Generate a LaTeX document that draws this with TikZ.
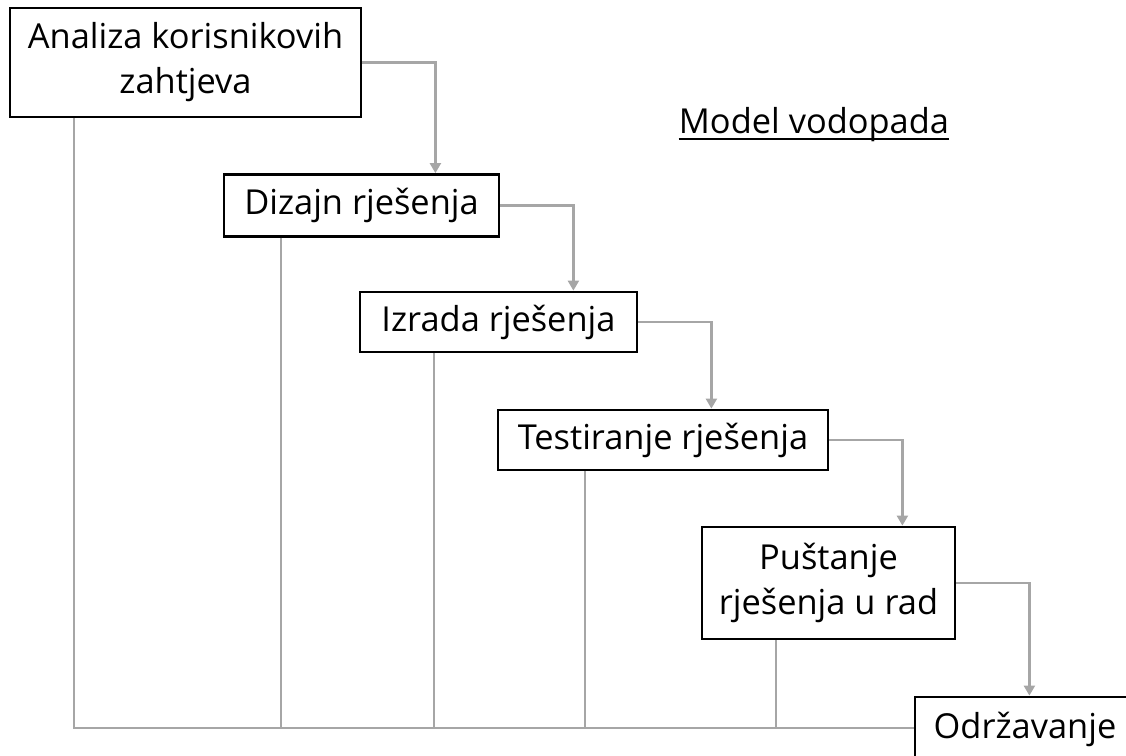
\documentclass[tikz,border=0pt]{standalone}
\usepackage{fontspec}
\setmainfont{Open Sans}
\usetikzlibrary{arrows.meta,calc}

\begin{document}
\begin{tikzpicture}[x=0.5pt,y=-0.5pt]
    \definecolor{linegray}{RGB}{166, 166, 166}
    
    \tikzset{
        phase/.style={draw=black, line width=1.4pt, fill=white, align=center, inner sep=0pt, font=\fontsize{17.2}{22.5}\selectfont},
        flow/.style={draw=linegray, line width=1.2pt, -{Triangle[width=5.5pt,length=5pt]}},
        link/.style={draw=linegray, line width=1.2pt},
    }
    
    \def\gap{73};
    
    \useasboundingbox (0,0) rectangle (1126,756);
    \clip (0,0) rectangle (1126,756);
    
    % Phases of the waterfall
    \node[phase, minimum width=175.5pt, minimum height=54.5pt] (analiza) at (185.5,62.5) {Analiza korisnikovih\\zahtjeva};
    \node[phase, minimum width=137.5pt, minimum height=31pt] (dizajn) at (361.5,205.5) {Dizajn rješenja};
    \node[phase, minimum width=138.5pt, minimum height=30pt] (izrada) at (498.5,322) {Izrada rješenja};
    \node[phase, minimum width=165pt, minimum height=30pt] (testiranje) at (663,440) {Testiranje rješenja};
    \node[phase, minimum width=126.5pt, minimum height=56pt] (pustanje) at (828.5,583) {Puštanje\\rješenja u rad};
    \node[phase, minimum width=110pt, minimum height=32pt] (odrzavanje) at (1025,729) {Održavanje};
    
    % Title with its underline
    \node[anchor=base, inner sep=0pt, font=\fontsize{17.2}{22.5}\selectfont] (naslov) at (814,133) {Model vodopada};
    \draw[line width=1pt] ([yshift=-3pt]naslov.base west) -- ([yshift=-3pt]naslov.base east);
    
    % Flow from one phase to the next
    \coordinate (k1) at ($(analiza.east)+(\gap,0)$);
    \coordinate (k2) at ($(dizajn.east)+(\gap,0)$);
    \coordinate (k3) at ($(izrada.east)+(\gap,0)$);
    \coordinate (k4) at ($(testiranje.east)+(\gap,0)$);
    \coordinate (k5) at ($(pustanje.east)+(\gap,0)$);
    
    \draw[flow] (analiza.east) -- (k1) -- (k1 |- dizajn.north);
    \draw[flow] (dizajn.east) -- (k2) -- (k2 |- izrada.north);
    \draw[flow] (izrada.east) -- (k3) -- (k3 |- testiranje.north);
    \draw[flow] (testiranje.east) -- (k4) -- (k4 |- pustanje.north);
    \draw[flow] (pustanje.east) -- (k5) -- (k5 |- odrzavanje.north);
    
    % Lines back down to the base line
    \coordinate (d1) at (74,728);
    \coordinate (d2) at (281,728);
    \coordinate (d3) at (434,728);
    \coordinate (d4) at (585,728);
    \coordinate (d5) at (776,728);
    
    \draw[link] (analiza.south -| d1) -- (d1) -- (d1 -| odrzavanje.west);
    \draw[link] (dizajn.south -| d2) -- (d2);
    \draw[link] (izrada.south -| d3) -- (d3);
    \draw[link] (testiranje.south -| d4) -- (d4);
    \draw[link] (pustanje.south -| d5) -- (d5);
\end{tikzpicture}
\end{document}
